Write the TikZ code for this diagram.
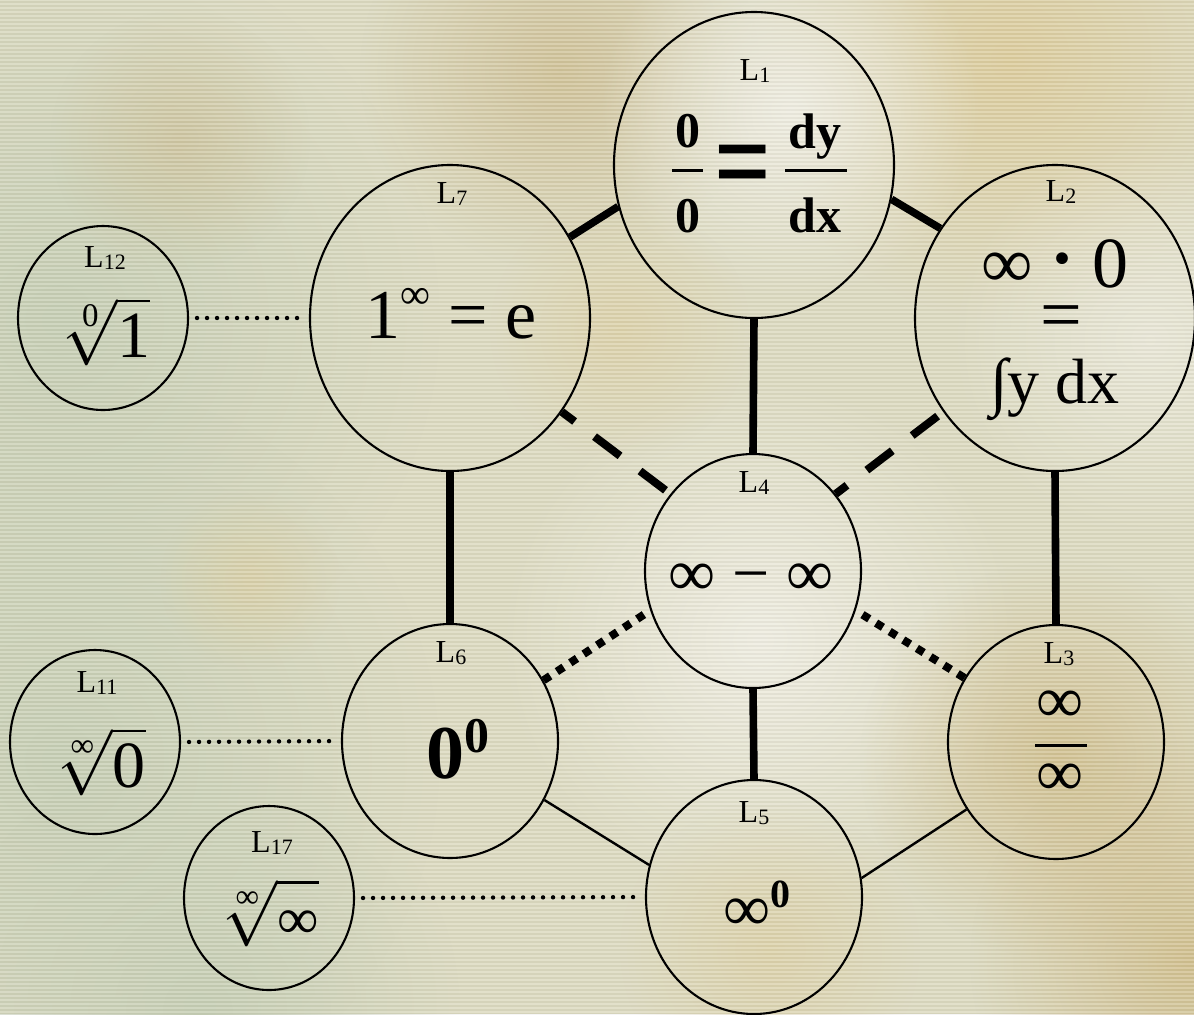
\RequirePackage{fix-cm}
\documentclass[tikz,border=0pt]{standalone}
\usepackage{fontspec}
\setmainfont{Liberation Serif}
\usepackage{amsmath}
\usetikzlibrary{shapes.geometric,fadings}

\tikzfading[name=blobfade, inner color=transparent!0, outer color=transparent!100]

\newcommand{\fsz}[1]{\fontsize{#1}{#1}\selectfont}
\newcommand{\Lsub}[1]{L\raisebox{-0.08em}{\fsz{11}#1}}

\definecolor{bgbase}{RGB}{221,219,193}
\definecolor{bggreen}{RGB}{200,208,182}
\definecolor{bgtan}{RGB}{205,186,138}
\definecolor{bggold}{RGB}{206,182,124}
\definecolor{bglight}{RGB}{240,238,226}
\definecolor{bgwarm}{RGB}{222,206,158}

\begin{document}
\begin{tikzpicture}[x=0.5pt,y=-0.5pt,
  bigc/.style={ellipse, draw=black, line width=1.05pt, inner sep=0pt, minimum width=140pt, minimum height=153pt},
  midc/.style={ellipse, draw=black, line width=1.05pt, inner sep=0pt, minimum width=108pt, minimum height=117pt},
  smlc/.style={ellipse, draw=black, line width=1.05pt, inner sep=0pt, minimum width=85pt, minimum height=92pt},
  lab/.style={anchor=base, inner sep=0pt, font=\fsz{16}},
  ftxt/.style={anchor=base, inner sep=0pt},
  strong/.style={line width=3.8pt},
  fine/.style={line width=1.2pt},
  dashln/.style={line width=4pt, dash pattern=on 16pt off 12.5pt},
  sqdot/.style={line width=4pt, dash pattern=on 4pt off 4pt},
  rdot/.style={line width=2.2pt, line cap=round, dash pattern=on 0pt off 5pt, shorten <=4pt, shorten >=4pt},
  fbar/.style={line width=1.5pt}
]
\useasboundingbox (0,0) rectangle (1194,1014);
% background
\begin{scope}
\clip (0,0) rectangle (1194,1014);
\fill[bgbase] (0,0) rectangle (1194,1014);
\fill[bggreen, path fading=blobfade] (60,320) circle (380);
\fill[bggreen, path fading=blobfade] (60,760) circle (380);
\fill[bggreen, path fading=blobfade] (200,1010) circle (260);
\fill[bgtan, fill opacity=0.5, path fading=blobfade] (180,140) circle (130);
\fill[bgtan, fill opacity=0.7, path fading=blobfade] (560,70) circle (200);
\fill[bgwarm, path fading=blobfade] (1010,60) circle (260);
\fill[bglight, path fading=blobfade] (790,110) circle (190);
\fill[bglight, fill opacity=0.7, path fading=blobfade] (1150,340) circle (200);
\fill[bglight, path fading=blobfade] (760,640) circle (260);
\fill[bggold, fill opacity=0.65, path fading=blobfade] (1060,760) circle (200);
\fill[bggold, fill opacity=0.7, path fading=blobfade] (1190,960) circle (220);
\fill[bgwarm, fill opacity=0.6, path fading=blobfade] (250,580) circle (90);
\fill[bgwarm, fill opacity=0.6, path fading=blobfade] (620,330) circle (130);
\fill[bgwarm, fill opacity=0.6, path fading=blobfade] (770,950) circle (150);
\foreach \yy in {0,4,...,1014} {
  \draw[white, opacity=0.16, line width=0.6pt] (0,\yy) -- (1194,\yy);
  \draw[black, opacity=0.035, line width=0.6pt] (0,\yy+2) -- (1194,\yy+2);
}
\end{scope}

% circles
\node[bigc] (L1) at (754,165) {};
\node[bigc] (L2) at (1055,318) {};
\node[bigc] (L7) at (450,318) {};
\node[smlc] (L12) at (103,318) {};
\node[midc] (L4) at (753,571) {};
\node[midc] (L6) at (450,741) {};
\node[midc] (L3) at (1056,742) {};
\node[midc] (L5) at (754,897) {};
\node[smlc] (L11) at (95,742) {};
\node[smlc] (L17) at (269,898) {};

% labels
\node[lab] (t1) at (755,80) {\Lsub{1}};
\node[lab] (t2) at (1061,201) {\Lsub{2}};
\node[lab] (t7) at (452,203) {\Lsub{7}};
\node[lab] (t12) at (105,267) {\Lsub{12}};
\node[lab] (t4) at (754,492) {\Lsub{4}};
\node[lab] (t11) at (97,692) {\Lsub{11}};
\node[lab] (t17) at (272,852) {\Lsub{17}};
\node[lab] (t6) at (451,662) {\Lsub{6}};
\node[lab] (t5) at (754,822) {\Lsub{5}};
\node[lab] (t3) at (1059,663) {\Lsub{3}};

% formulas
\node[ftxt, font=\fsz{25}\bfseries] (f1a) at (688,147) {0};
\node[ftxt, font=\fsz{25}\bfseries] (f1b) at (688,232) {0};
\node[ftxt, font=\bfseries] (f1eq) at (743,203) {\scalebox{1}[1.25]{\fsz{50}=}};
\node[ftxt, font=\fsz{25}\bfseries] (f1c) at (815,148) {dy};
\node[ftxt, font=\fsz{25}\bfseries] (f1d) at (815,232) {dx};
\draw[fbar] (672,170) -- (703,170);
\draw[fbar] (785,170) -- (847,170);

\node[ftxt, font=\fsz{36}] (f2a) at (1055,287) {∞ \raisebox{0.06em}{\textbf{·}} 0};
\node[ftxt, font=\fsz{37}] (f2b) at (1061,339) {=};
\node[ftxt, font=\fsz{32}] (f2c) at (1055,403) {∫y dx};

\node[ftxt, font=\fsz{35}] (f7) at (451,338) {1\raisebox{15pt}{\fsz{21}∞} = e};
\node[ftxt, font=\fsz{33}] (f4) at (751,595) {∞ − ∞};
\node[ftxt, font=\fsz{38}\bfseries] (f6) at (458,778) {0\raisebox{13pt}{\fsz{25}\bfseries 0}};
\node[ftxt, font=\fsz{33}] (f5) at (757,930) {∞\raisebox{11.5pt}{\fsz{20}\bfseries 0}};
\node[ftxt, font=\fsz{33}] (f3a) at (1060,722) {∞};
\node[ftxt, font=\fsz{33}] (f3b) at (1060,795) {∞};
\draw[fbar] (1035,745) -- (1087,745);

\node[ftxt, font=\fsz{33}] (f12) at (107,357) {$\sqrt[\text{0}]{\text{1}}$};
\node[ftxt, font=\fsz{33}] (f11) at (99,787) {$\sqrt[\text{∞}]{\text{0}}$};
\node[ftxt, font=\fsz{33}] (f17) at (268,938) {$\sqrt[\text{∞}]{\vphantom{0}\text{\fsz{29}∞}}$};

% connectors
\draw[strong] (L7.34) -- (L1.197);
\draw[strong] (L1.346) -- (L2.142);
\draw[strong] (L1.south) -- (L4.north);
\draw[strong] (L7.south) -- (L6.north);
\draw[strong] (L2.south) -- (L3.north);
\draw[strong] (L4.south) -- (L5.north);
\draw[dashln, dash phase=8pt] (L7.320) -- (L4.137);
\draw[dashln, dash phase=25pt] (L2.220) -- (L4.43);
\draw[sqdot] (L6.33) -- (L4.201);
\draw[sqdot] (L3.145) -- (L4.339);
\draw[fine] (L6.328) -- (L5.163);
\draw[fine] (L3.217) -- (L5.10);
\draw[rdot] (L12.east) -- (L7.west);
\draw[rdot] (L11.east) -- (L6.west);
\draw[rdot] (L17.east) -- (L5.west);
\end{tikzpicture}
\end{document}
